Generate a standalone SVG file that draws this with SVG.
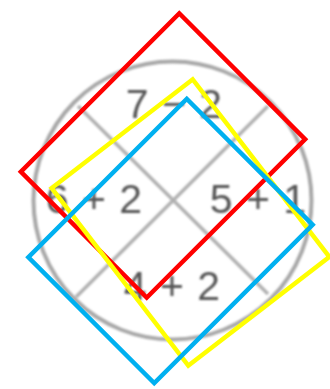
<svg xmlns="http://www.w3.org/2000/svg" width="330" height="389" viewBox="0 0 330 389">
  <defs>
    <filter id="soft" x="-10%" y="-10%" width="120%" height="120%">
      <feGaussianBlur stdDeviation="1"/>
    </filter>
  </defs>
  <style>
    .ring { fill: none; stroke: #a8a8a8; stroke-width: 4; }
    .cross { stroke: #b0b0b0; stroke-width: 3.5; fill: none; }
    .num { font-family: "Liberation Sans", Arial, sans-serif; font-size: 41px; fill: #555555; text-anchor: middle; word-spacing: 2px; }
    .sq { fill: none; stroke-width: 4.5; stroke-linejoin: miter; }
  </style>
  <rect width="330" height="389" fill="#ffffff"/>
  <g id="dial" filter="url(#soft)">
    <circle class="ring" cx="172.5" cy="200.5" r="139"/>
    <line class="cross" x1="78" y1="106" x2="268" y2="294"/>
    <line class="cross" x1="268" y1="106" x2="76" y2="297"/>
    <text class="num" x="174" y="118">7 − 2</text>
    <text class="num" x="94" y="213">6 + 2</text>
    <text class="num" x="258" y="213">5 + 1</text>
    <text class="num" x="172" y="300">4 + 2</text>
  </g>
  <g id="red-square">
    <rect class="sq" stroke="#ff0000" x="-112" y="-89" width="224" height="178" transform="translate(163 155.5) rotate(-45)"/>
  </g>
  <g id="yellow-square">
    <rect class="sq" stroke="#ffff00" x="-112" y="-89" width="224" height="178" transform="translate(190.5 222.5) rotate(52.4)"/>
  </g>
  <g id="blue-square">
    <rect class="sq" stroke="#00b0f0" x="-112" y="-89" width="224" height="178" transform="translate(170.5 241) rotate(-45)"/>
  </g>
</svg>
